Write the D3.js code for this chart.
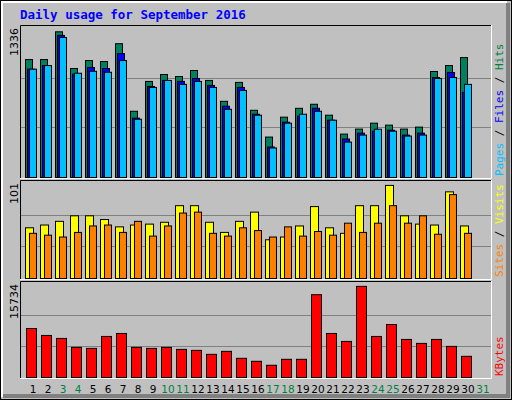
<!DOCTYPE html>
<html><head><meta charset="utf-8">
<script src="https://cdnjs.cloudflare.com/ajax/libs/d3/7.8.5/d3.min.js"></script>
<style>body{margin:0;background:#fff}</style>
</head><body>
<script>
var days = d3.range(1, 32);
var weekend = [3, 4, 10, 11, 17, 18, 24, 25, 31];
var hits  = [1079,1079,1333,997,1070,1061,1224,606,879,942,924,979,888,697,870,615,370,552,633,670,570,397,443,497,479,443,461,970,1024,1097];
var files = [991,1024,1300,945,1006,997,1133,543,833,888,879,906,842,652,824,579,279,506,561,633,524,352,406,424,433,388,406,915,961,779];
var pages = [991,1024,1281,954,972,963,1070,533,824,888,852,879,824,624,797,570,270,497,579,606,524,324,388,442,424,379,388,906,915,852];
var visits = [55,58,62,68,68,64,56,58,59,61,79,79,61,50,62,72,42,45,57,78,55,49,79,79,101,68,59,58,94,57];
var sites  = [49,47,45,50,57,58,50,62,46,57,71,72,49,46,55,52,45,56,46,51,47,60,50,60,79,60,68,48,91,49];
var kbytes = [8460,7259,6744,5200,5028,7087,7602,5200,5028,5200,4856,4685,3998,4513,3312,2797,2111,3140,3140,14294,7602,6229,15734,7087,9146,6572,5886,6572,5371,3655];

var W = 512, H = 400;
var svg = d3.select('body').append('svg').attr('width', W).attr('height', H);

// frame
svg.append('rect').attr('width', W).attr('height', H).attr('fill', '#c0c0c0');
svg.append('rect').attr('x', 0.5).attr('y', 0.5).attr('width', W - 1).attr('height', H - 1).attr('fill', 'none').attr('stroke', '#000');
svg.append('path').attr('d', 'M2,397V2H507').attr('fill', 'none').attr('stroke', '#fff').attr('stroke-width', 2);
svg.append('path').attr('d', 'M508,3V396H3').attr('fill', 'none').attr('stroke', '#808080').attr('stroke-width', 4);

svg.append('text').attr('x', 20).attr('y', 19).attr('fill', '#0000ff')
  .attr('font-family', 'DejaVu Sans Mono').attr('font-weight', 'bold').attr('font-size', 12.5)
  .text('Daily usage for September 2016');

var x = d3.scaleLinear().domain([1, 2]).range([25, 40]);

function panel(top, bottom, maxVal, maxLabel, labels) {
  svg.append('path').attr('d', 'M20.5,' + bottom + 'V' + (top + 0.5) + 'H491').attr('fill', 'none').attr('stroke', '#000');
  svg.append('path').attr('d', 'M20,' + (bottom + 0.5) + 'H491.5V' + top).attr('fill', 'none').attr('stroke', '#fff');
  var base = bottom - 1, plotH = (bottom - top - 4);
  var y = d3.scaleLinear().domain([0, maxVal]).range([base, base - plotH * 0.98]);
  [1, 2].forEach(function (k) {
    var gy = Math.round(base - plotH * k / 3) + 0.5;
    svg.append('line').attr('x1', 21).attr('x2', 491).attr('y1', gy).attr('y2', gy).attr('stroke', '#808080');
  });
  svg.append('text').attr('transform', 'translate(18,' + (top + 3) + ') rotate(-90)')
    .attr('text-anchor', 'end').attr('font-family', 'DejaVu Sans').attr('font-size', 11).text(maxLabel);
  var t = svg.append('text').attr('transform', 'translate(503,' + (bottom - 2) + ') rotate(-90)')
    .attr('font-family', 'DejaVu Sans Mono').attr('font-size', 11);
  labels.forEach(function (l) { t.append('tspan').attr('fill', l[1]).text(l[0]); });
  return y;
}

function bars(y, data, off, w, color) {
  svg.append('g').selectAll('rect').data(data).enter().append('rect')
    .attr('x', function (d, i) { return x(i + 1) + off + 0.5; })
    .attr('y', function (d) { return y(d) + 0.5; })
    .attr('width', w)
    .attr('height', function (d) { return y(0) - y(d); })
    .attr('fill', color).attr('stroke', '#000');
}

var y1 = panel(25, 178, 1336, '1336', [['Pages', '#00c0ff'], [' / ', '#000'], ['Files', '#0000ff'], [' / ', '#000'], ['Hits', '#008040']]);
bars(y1, hits, 0, 7, '#008060');
bars(y1, files, 2, 7, '#0000ff');
bars(y1, pages, 4, 7, '#00c0ff');

var y2 = panel(180, 279, 101, '101', [['Sites', '#ff8000'], [' / ', '#000'], ['Visits', '#ffff00']]);
bars(y2, visits, 0, 8, '#ffff00');
bars(y2, sites, 4, 7, '#ff8000');

var y3 = panel(281, 378, 15734, '15734', [['KBytes', '#ff0000']]);
bars(y3, kbytes, 1, 10, '#ff0000');

svg.append('g').selectAll('text').data(days).enter().append('text')
  .attr('x', function (d) { return x(d) + 8; }).attr('y', 393)
  .attr('text-anchor', 'middle').attr('font-family', 'DejaVu Sans').attr('font-size', 10.5)
  .attr('fill', function (d) { return weekend.indexOf(d) >= 0 ? '#008040' : '#000'; })
  .text(function (d) { return d; });
</script>
</body></html>
